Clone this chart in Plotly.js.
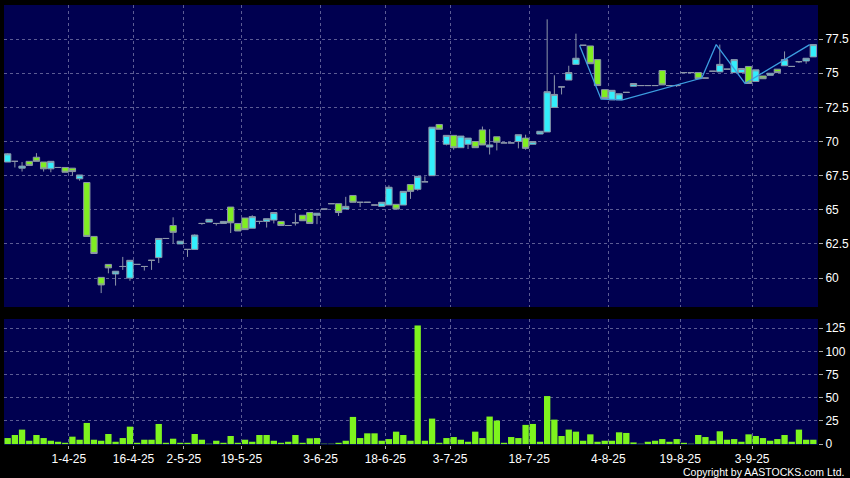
<!DOCTYPE html>
<html>
<head>
<meta charset="utf-8">
<script src="https://cdn.plot.ly/plotly-3.0.1.min.js"></script>
<style>
html,body{margin:0;padding:0;background:#000;}
#chart{width:850px;height:478px;}
</style>
</head>
<body>
<div id="chart"></div>
<script>
// Trading-day index of each candle (0..112)
const openP = [68.5,68.55,68.05,68.55,68.85,68.5,68.0,68.1,68.1,68.05,67.27,67.0,63.05,60.05,61.0,60.3,60.85,60.0,61.0,60.85,
61.3,61.5,62.9,63.85,62.5,62.1,62.1,64.0,64.1,64.0,64.0,65.2,64.0,64.4,63.65,64.15,64.15,64.25,64.15,63.85,
64.05,64.6,64.8,64.6,65.05,65.45,65.45,65.05,66.05,65.55,65.55,65.35,65.25,65.35,65.4,65.35,66.85,66.5,67.05,67.5,
71.25,69.8,70.45,69.55,69.8,70.0,70.85,69.6,70.35,69.9,69.9,70.0,70.25,69.8,70.55,70.7,72.5,74.0,74.5,75.65,
77.05,77.0,76.0,73.8,73.05,73.05,73.6,74.05,74.1,74.1,74.1,75.2,74.1,74.1,75.05,75.05,75.05,74.65,75.15,75.1,
75.3,75.05,75.05,75.5,74.4,74.8,74.85,75.3,75.55,75.5,75.85,75.9,76.2];
const highP = [69.15,68.55,68.5,68.55,69.15,68.5,68.55,68.1,68.1,68.05,67.55,67.0,63.05,60.05,61.0,60.5,61.55,61.3,61.0,60.85,
61.3,62.9,62.9,64.45,62.7,62.1,63.2,64.0,64.3,64.0,64.15,65.2,64.0,64.4,64.6,64.15,64.35,64.8,64.15,63.85,
64.75,64.6,64.8,64.75,65.05,65.45,65.45,65.95,66.05,65.55,65.55,65.35,65.55,66.8,65.4,66.35,66.85,67.45,67.45,71.05,
71.25,70.45,70.45,70.4,70.25,70.0,71.1,70.9,70.35,69.9,69.9,70.5,70.5,70.0,70.75,78.95,74.85,74.0,75.55,77.9,
77.05,77.0,76.0,73.8,73.75,73.5,73.6,74.25,74.1,74.1,74.1,75.2,74.1,74.1,75.05,75.05,75.05,74.65,75.15,77.1,
75.3,76.0,75.35,75.5,75.25,74.8,75.0,75.3,76.6,75.5,75.85,76.1,77.1];
const lowP = [68.5,68.1,67.8,68.25,68.55,67.8,67.75,68.1,67.75,67.5,67.13,63.05,61.8,58.9,60.35,59.45,60.6,59.8,61.0,60.55,
60.6,61.1,62.9,62.55,62.5,61.55,62.1,63.9,64.1,63.85,64.0,63.3,63.45,63.55,63.65,63.95,63.7,64.0,63.85,63.85,
63.85,64.2,64.0,63.95,65.05,65.45,64.55,65.05,65.55,65.2,65.55,65.35,65.25,65.35,65.05,65.35,65.8,66.4,67.05,67.5,
70.9,69.72,69.4,69.55,69.45,69.55,69.75,69.05,69.35,69.9,69.9,69.5,69.4,69.8,70.55,70.7,72.5,73.45,74.5,75.65,
77.05,75.7,74.1,73.15,73.05,73.05,73.6,74.05,74.1,74.1,74.1,74.15,74.1,74.0,75.05,75.05,74.6,74.65,75.15,75.1,
75.3,75.05,75.05,74.25,74.4,74.6,74.85,75.05,75.55,75.5,75.75,75.7,76.2];
const closeP = [69.1,68.55,68.2,68.25,68.55,68.0,68.55,68.1,67.75,67.8,67.55,63.05,61.8,59.5,60.75,60.5,60.85,61.3,61.0,60.85,
61.3,62.9,62.9,63.35,62.7,62.1,63.15,64.0,64.3,64.0,64.15,64.05,63.45,63.55,64.5,64.15,64.35,64.8,63.85,63.85,
64.05,64.2,64.0,64.75,65.05,65.45,64.8,65.25,65.55,65.55,65.55,65.35,65.55,66.65,65.05,66.35,66.35,67.45,67.05,71.05,
70.9,70.45,69.55,70.4,70.25,69.55,69.75,69.75,69.95,69.9,69.9,70.5,69.5,70.0,70.75,73.65,73.45,74.0,75.05,76.1,
77.05,75.7,74.1,73.15,73.75,73.5,73.6,74.25,74.1,74.1,74.1,74.15,74.1,74.1,75.05,75.05,74.6,74.65,75.15,75.65,
75.3,76.0,75.35,74.25,75.25,74.6,75.0,75.05,76.0,75.5,75.85,76.1,77.1];
const volume = [6.5,9.8,15.6,3.6,9.8,6.5,3.6,2.5,1.4,8,4.7,22.8,4.7,3.6,10.9,2.5,6.5,18.8,1.4,4.7,
4.7,21.7,1.4,5.8,1.4,1.4,10.9,4.7,0.4,3.6,1.4,8.7,1.4,4.7,2.5,9.8,9.8,3.6,1.4,2.5,
9.8,1.4,6.2,6.5,0.4,0.4,1.4,3.6,29.3,6.5,11.6,11.6,3.6,5.4,13.4,9.8,3.6,128,3.6,27.5,
1.4,6.5,7.6,4.7,2.5,13.4,6.5,29.7,25.4,1.4,7.6,6.5,20.7,21.7,2.5,51.8,26.4,8.7,15.6,13.4,
3.6,10.5,2.5,3.6,3.6,12.7,12,1.8,0.4,2.5,3.6,5.4,2.5,5.4,1.4,0.4,9.8,7.6,3.6,13.8,
4.7,5.4,2.5,10.5,8.7,6.5,3.6,5.4,9.8,2.5,15.6,4.7,4.7];
// Zig-zag overlay: candle index where each vertex sits, and its price
const zzIdx = [80, 83, 86, 97, 99, 103, 112];
const zzVal = [77.05, 73.1, 73.05, 74.65, 77.1, 74.25, 77.1];
// Date ticks: candle index of the first session of each labelled date
const tickIdx = [9, 18, 25, 33, 44, 53, 62, 73, 84, 94, 104];
const tickLabels = ['1-4-25','16-4-25','2-5-25','19-5-25','3-6-25','18-6-25','3-7-25','18-7-25','4-8-25','19-8-25','3-9-25'];
const priceTicks = [60, 62.5, 65, 67.5, 70, 72.5, 75, 77.5];
const volTicks = [0, 25, 50, 75, 100, 125];

const idx = closeP.map((_, i) => i);

const gridC = '#5c5c94';
const fontF = '"Liberation Sans", Arial, sans-serif';

const candles = {
  type: 'candlestick', x: idx, open: openP, high: highP, low: lowP, close: closeP,
  xaxis: 'x', yaxis: 'y',
  increasing: {fillcolor: '#33eefc', line: {color: '#8c96a8', width: 1}},
  decreasing: {fillcolor: '#80ee22', line: {color: '#8c96a8', width: 1}},
  whiskerwidth: 0, hoverinfo: 'none', showlegend: false
};
const zz = {
  type: 'scatter', mode: 'lines', x: zzIdx.map(i => i - 0.5), y: zzVal,
  xaxis: 'x', yaxis: 'y', line: {color: '#3c9ee0', width: 1.3},
  hoverinfo: 'none', showlegend: false
};
const vol = {
  type: 'bar', x: idx, y: volume, xaxis: 'x', yaxis: 'y2', width: 0.88,
  marker: {color: '#7ef41e', line: {width: 0}}, hoverinfo: 'none', showlegend: false
};

const layout = {
  width: 850, height: 478,
  paper_bgcolor: '#000000', plot_bgcolor: '#000050',
  margin: {l: 4, r: 32, t: 5, b: 33},
  font: {family: fontF, color: '#ffffff', size: 12},
  boxgap: 0.12, boxgroupgap: 0,
  showlegend: false,
  xaxis: {
    anchor: 'y2', range: [-0.51, 112.65],
    tickvals: tickIdx.map(i => i - 0.5), ticktext: tickLabels,
    ticks: 'outside', ticklen: 3, tickcolor: '#aaaaaa',
    showgrid: true, gridcolor: gridC, griddash: '3px,3px', gridwidth: 1,
    zeroline: false, showline: false,
    rangeslider: {visible: false},
    tickfont: {color: '#ffffff', size: 12, family: fontF}
  },
  yaxis: {
    domain: [0.3136, 1], range: [57.88, 80.0], side: 'right', anchor: 'x',
    tickvals: priceTicks, ticktext: priceTicks.map(String),
    ticks: 'outside', ticklen: 4, tickcolor: '#aaaaaa',
    showgrid: true, gridcolor: gridC, griddash: '3px,3px', gridwidth: 1,
    zeroline: false, showline: false,
    tickfont: {color: '#ffffff', size: 12, family: fontF}
  },
  yaxis2: {
    domain: [0, 0.2864], range: [-1, 135], side: 'right', anchor: 'x',
    tickvals: volTicks, ticktext: volTicks.map(String),
    ticks: 'outside', ticklen: 4, tickcolor: '#aaaaaa',
    showgrid: true, gridcolor: gridC, griddash: '3px,3px', gridwidth: 1,
    zeroline: false, showline: false,
    tickfont: {color: '#ffffff', size: 12, family: fontF}
  },
  annotations: [{
    text: 'Copyright by AASTOCKS.com Ltd.', xref: 'paper', yref: 'paper',
    x: 1, y: 0, xanchor: 'right', yanchor: 'middle', xshift: 28, yshift: -27,
    showarrow: false, font: {color: '#ffffff', size: 10.5, family: fontF}
  }]
};

Plotly.newPlot('chart', [vol, candles, zz], layout, {staticPlot: true, displayModeBar: false});
</script>
</body>
</html>
